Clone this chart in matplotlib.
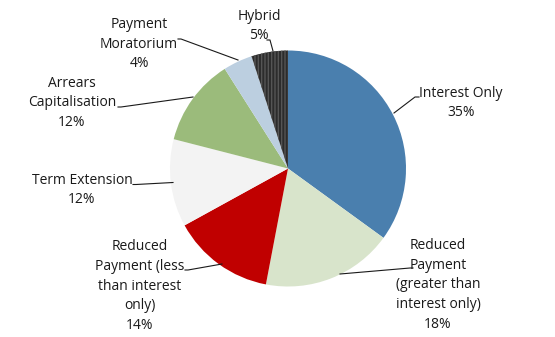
import matplotlib.pyplot as plt
import numpy as np

categories = ['Interest Only', 'Reduced\nPayment\n(greater than\ninterest only)',
              'Reduced\nPayment (less\nthan interest\nonly)', 'Term Extension',
              'Arrears\nCapitalisation', 'Payment\nMoratorium', 'Hybrid']
shares = [35, 18, 14, 12, 12, 4, 5]
colors = ['#4a7fae', '#d8e4cb', '#c00000', '#f3f3f3', '#9bbb7b', '#bccfe0', '#2c2c2c']

# label placement (pixel coords, y from top), and leader line paths
label_pos = [(461, 103), (438, 285), (140, 286), (82, 190), (72, 103), (139, 44), (259, 26)]
leaders = [
    [(394, 113), (415, 97), (419, 97)],
    [(340, 274), (410, 268), (413, 268)],
    [(222, 264), (188, 270), (185, 270)],
    [(173, 182.5), (136, 184.5), (133, 184.5)],
    [(193, 97), (121, 107), (118, 107)],
    [(238, 60), (181, 39), (178, 39)],
    [(273, 51), (270, 40), (267, 40)],
]

plt.rcParams['hatch.linewidth'] = 1.0

W, H = 555, 337
fig = plt.figure(figsize=(W / 100, H / 100), dpi=100)
ax = fig.add_axes([0, 0, 1, 1])

wedges, _ = ax.pie(shares, colors=colors, startangle=90, counterclock=False,
                   center=(288, H - 168.5), radius=118,
                   wedgeprops=dict(linewidth=0))
wedges[-1].set_hatch('|||||')
wedges[-1].set_edgecolor('#555555')
wedges[-1].set_linewidth(0)

ax.set_xlim(0, W)
ax.set_ylim(0, H)
ax.set_aspect('equal')
ax.axis('off')

for name, val, (px, py), path in zip(categories, shares, label_pos, leaders):
    ax.text(px, H - py, f'{name}\n{val}%', ha='center', va='center',
            fontsize=10, family='Open Sans', color='#1a1a1a', linespacing=1.45)
    xs = [p[0] for p in path]
    ys = [H - p[1] for p in path]
    ax.plot(xs, ys, color='#1a1a1a', lw=0.8)

fig.savefig('out.png', dpi=100)
